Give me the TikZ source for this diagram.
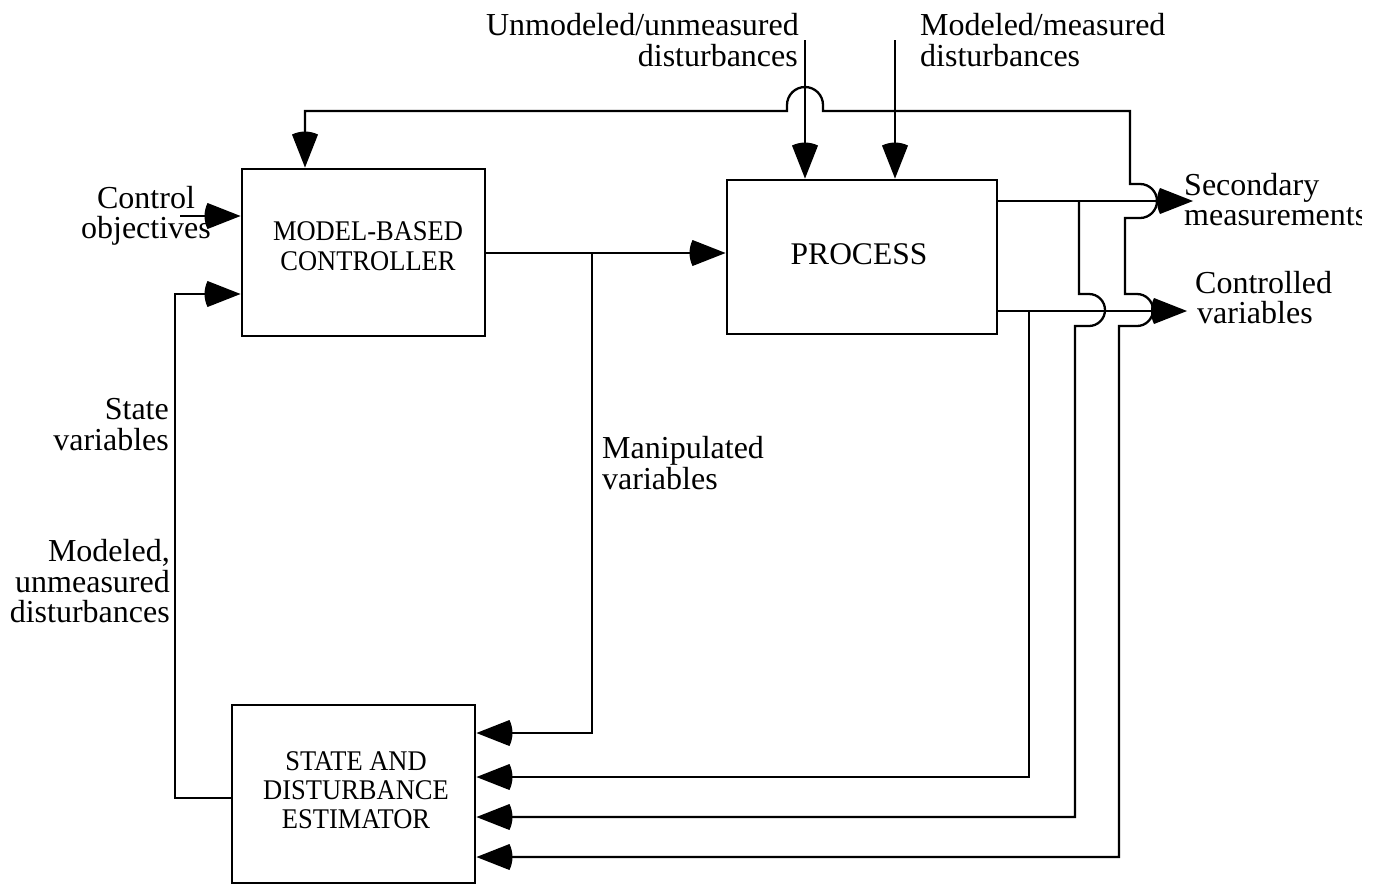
\documentclass[tikz,border=0pt]{standalone}
\usepackage{fontspec}
\setmainfont{Liberation Serif}
\newfontfamily\boxfont{Liberation Serif}[FakeStretch=0.93]
\pgfdeclarearrow{
  name = Fat,
  setup code = {
    \pgfarrowssettipend{0pt}
    \pgfarrowssetlineend{-28pt}
    \pgfarrowssetbackend{-37pt}
    \pgfarrowshullpoint{0pt}{0pt}
    \pgfarrowsupperhullpoint{-33pt}{13pt}
    \pgfarrowsupperhullpoint{-37pt}{0pt}
  },
  drawing code = {
    \pgfpathmoveto{\pgfpoint{0pt}{0pt}}
    \pgfpathlineto{\pgfpoint{-33pt}{13pt}}
    \pgfpathcurveto{\pgfpoint{-37pt}{5pt}}{\pgfpoint{-37pt}{-5pt}}{\pgfpoint{-33pt}{-13pt}}
    \pgfpathclose
    \pgfusepathqfill
  }
}
\begin{document}
\begin{tikzpicture}[x=1pt,y=-1pt,
  wire/.style={line width=2.3pt},
  box/.style={draw, line width=2.9pt, inner sep=0pt},
  lbl/.style={font=\fontsize{32}{31}\selectfont, inner sep=0pt},
  boxtxt/.style={font=\boxfont\fontsize{28.5}{28}\selectfont, inner sep=0pt},
  >=Fat]
\useasboundingbox (0,0) rectangle (1380,884);

% boxes
\node[box, minimum width=243pt, minimum height=167pt] (ctrl) at (363.5,252.5) {};
\node[box, minimum width=270pt, minimum height=154pt] (proc) at (862,257) {};
\node[box, minimum width=243pt, minimum height=178pt] (est) at (353.5,794) {};

% box texts
\node[boxtxt, anchor=base] (ctrlA) at (368,240) {MODEL-BASED};
\node[boxtxt, anchor=base] (ctrlB) at (368,270) {CONTROLLER};
\node[font=\fontsize{31.5}{32}\selectfont, inner sep=0pt, anchor=base] (procT) at (859,264) {PROCESS};
\node[boxtxt, anchor=base] (estA) at (356,770) {STATE AND};
\node[boxtxt, anchor=base] (estB) at (356,799) {DISTURBANCE};
\node[boxtxt, anchor=base] (estC) at (356,828) {ESTIMATOR};

% labels
\node[lbl, anchor=base east] (unA) at (799,35) {Unmodeled/unmeasured};
\node[lbl, anchor=base east] (unB) at (798,66) {disturbances};
\node[lbl, anchor=base west] (mdA) at (920,35) {Modeled/measured};
\node[lbl, anchor=base west] (mdB) at (920,66) {disturbances};
\node[lbl, anchor=base] (coA) at (146,208) {Control};
\node[lbl, anchor=base] (coB) at (146,238) {objectives};
\node[lbl, anchor=base east] (svA) at (169,419) {State};
\node[lbl, anchor=base east] (svB) at (169,450) {variables};
\node[lbl, anchor=base east] (muA) at (170,561) {Modeled,};
\node[lbl, anchor=base east] (muB) at (170,592) {unmeasured};
\node[lbl, anchor=base east] (muC) at (170,622) {disturbances};
\node[lbl, anchor=base west] (mvA) at (602,458) {Manipulated};
\node[lbl, anchor=base west] (mvB) at (602,489) {variables};
\begin{scope}
\clip (0,0) rectangle (1361,884);
\node[lbl, anchor=base west] (smA) at (1184,195) {Secondary};
\node[lbl, anchor=base west] (smB) at (1184,225) {measurements};
\end{scope}
\node[lbl, anchor=base west] (cvA) at (1195,293) {Controlled};
\node[lbl, anchor=base west] (cvB) at (1197,323) {variables};

% free ends and branch points
\coordinate (coIn) at (180,216);
\coordinate (unIn) at (805,40);
\coordinate (mdIn) at (895,40);
\coordinate (mv) at (592,253);
\coordinate (smOut) at (1193,201);
\coordinate (cvOut) at (1187,311);
\coordinate (smBr) at (1079,201);
\coordinate (cvBr) at (1029,311);

% inputs
\draw[wire,->] (coIn) -- (ctrl.west |- coIn);
\draw[wire,->] (unIn) -- (proc.north -| unIn);
\draw[wire,->] (mdIn) -- (proc.north -| mdIn);

% controller -> process, manipulated variables -> estimator
\draw[wire,->] (ctrl.east |- mv) -- (proc.west |- mv);
\draw[wire,->] (mv) -- (592,733) -- (est.east |- 0,733);

% estimator -> controller
\draw[wire,->] (est.west |- 0,798) -- (175,798) -- (175,294) -- (ctrl.west |- 0,294);

% outputs
\draw[wire,->] (proc.east |- smOut) -- (smOut);
\draw[wire,->] (proc.east |- cvOut) -- (cvOut);

% controlled variables -> estimator
\draw[wire,->] (cvBr) -- (1029,777) -- (est.east |- 0,777);

% secondary measurements -> estimator (hump over controlled variables)
\draw[wire,->] (smBr) -- (1079,294) -- (1089,294)
  .. controls (1097.8,294) and (1105,301.2) .. (1105,310)
  .. controls (1105,318.8) and (1097.8,326) .. (1089,326)
  -- (1075,326) -- (1075,817) -- (est.east |- 0,817);

% long loop: controller top <-> estimator bottom
\draw[wire,<->] (ctrl.north -| 305,0) -- (305,111) -- (787,111) -- (787,105)
  .. controls (787,95.06) and (795.06,87) .. (805,87)
  .. controls (814.94,87) and (823,95.06) .. (823,105)
  -- (823,111) -- (1130,111) -- (1130,184) -- (1140,184)
  .. controls (1149.4,184) and (1157,191.6) .. (1157,201)
  .. controls (1157,210.4) and (1149.4,218) .. (1140,218)
  -- (1125,218) -- (1125,294) -- (1137,294)
  .. controls (1145.8,294) and (1153,301.2) .. (1153,310)
  .. controls (1153,318.8) and (1145.8,326) .. (1137,326)
  -- (1119,326) -- (1119,857) -- (est.east |- 0,857);
\end{tikzpicture}
\end{document}
